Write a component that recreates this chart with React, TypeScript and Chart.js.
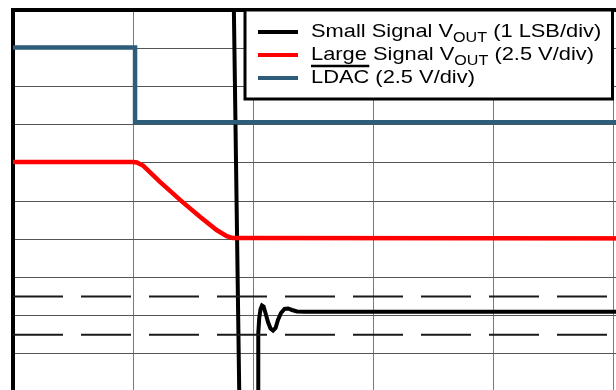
import React, { useEffect, useRef } from "react";
import { Chart, registerables } from "chart.js";

Chart.register(...registerables);

// Time axis in divisions (0..6), amplitude in divisions (0 = bottom, 10 = top)
const ldacX = [0, 1.017, 1.017, 6];
const ldacY = [9.02, 9.02, 7.06, 7.06];

const largeX = [0, 1.0, 1.033, 1.086, 1.225, 1.392, 1.558, 1.697, 1.781, 1.833, 6];
const largeY = [6.02, 6.02, 6.01, 5.92, 5.5, 5.03, 4.59, 4.24, 4.08, 4.03, 4.02];

const smallX = [1.838, 1.888, 2.042, 2.044, 2.052, 2.063, 2.075, 2.088, 2.104, 2.125, 2.146, 2.167, 2.188, 2.208, 2.233, 2.263, 2.292, 2.325, 2.367, 2.433, 6];
const smallY = [10.6, -0.6, -0.6, 1.545, 1.937, 2.173, 2.264, 2.238, 2.068, 1.832, 1.662, 1.61, 1.675, 1.885, 2.068, 2.173, 2.186, 2.147, 2.107, 2.099, 2.1];

const dashedLevels = [2.5, 1.5];

const legendLabels = [
  { pre: "Small Signal V", sub: "OUT", post: " (1 LSB/div)", overbar: false },
  { pre: "Large Signal V", sub: "OUT", post: " (2.5 V/div)", overbar: false },
  { pre: "LDAC", sub: "", post: " (2.5 V/div)", overbar: true },
];
const seriesColors = ["#000000", "#ff0000", "#2d5d78"];

const toPts = (xs: number[], ys: number[]) => xs.map((x, i) => ({ x, y: ys[i] }));

const MAIN_FONT = "19px 'Liberation Sans', Arial, sans-serif";
const SUB_FONT = "14px 'Liberation Sans', Arial, sans-serif";

const legendPlugin = {
  id: "scopeLegend",
  afterDraw(chart: any) {
    const ctx = chart.ctx as CanvasRenderingContext2D;
    ctx.save();
    ctx.fillStyle = "#ffffff";
    ctx.fillRect(245, 10, 367.5, 89);
    ctx.strokeStyle = "#000000";
    ctx.lineWidth = 3;
    ctx.strokeRect(245, 10, 367.5, 89);
    const baselines = [37, 60, 83];
    const textX = 311;
    legendLabels.forEach((lab, i) => {
      const b = baselines[i];
      ctx.strokeStyle = seriesColors[i];
      ctx.lineWidth = 4;
      ctx.beginPath();
      ctx.moveTo(258, b - 5);
      ctx.lineTo(298, b - 5);
      ctx.stroke();

      ctx.save();
      ctx.translate(textX, 0);
      ctx.scale(1.15, 1);
      ctx.fillStyle = "#000000";
      ctx.textBaseline = "alphabetic";
      ctx.font = MAIN_FONT;
      let x = 0;
      ctx.fillText(lab.pre, x, b);
      const preW = ctx.measureText(lab.pre).width;
      if (lab.overbar) {
        ctx.lineWidth = 2.5;
        ctx.strokeStyle = "#000000";
        ctx.beginPath();
        ctx.moveTo(x, b - 17);
        ctx.lineTo(x + preW, b - 17);
        ctx.stroke();
      }
      x += preW;
      if (lab.sub) {
        ctx.font = SUB_FONT;
        ctx.fillText(lab.sub, x, b + 5);
        x += ctx.measureText(lab.sub).width;
        ctx.font = MAIN_FONT;
      }
      ctx.fillText(lab.post, x, b);
      ctx.restore();
    });
    ctx.restore();
  },
};

export default function App() {
  const ref = useRef<HTMLCanvasElement | null>(null);
  useEffect(() => {
    if (!ref.current) return;
    const dashed = dashedLevels.map((lv) => ({
      data: [{ x: 0, y: lv }, { x: 6, y: lv }],
      borderColor: "#1a1a1a",
      borderWidth: 2,
      borderDash: [50, 18],
      pointRadius: 0,
      tension: 0,
    }));
    const chart = new Chart(ref.current, {
      type: "line",
      data: {
        datasets: [
          ...dashed,
          {
            label: "LDAC",
            data: toPts(ldacX, ldacY),
            borderColor: seriesColors[2],
            borderWidth: 4.5,
            pointRadius: 0,
            tension: 0,
          },
          {
            label: "Large Signal",
            data: toPts(largeX, largeY),
            borderColor: seriesColors[1],
            borderWidth: 4.5,
            pointRadius: 0,
            tension: 0,
          },
          {
            label: "Small Signal",
            data: toPts(smallX, smallY),
            borderColor: seriesColors[0],
            borderWidth: 4,
            pointRadius: 0,
            tension: 0,
          },
        ] as any,
      },
      options: {
        animation: false,
        responsive: false,
        events: [],
        layout: { padding: { left: 13, top: 10, right: 7, bottom: 8 } },
        plugins: { legend: { display: false }, tooltip: { enabled: false } },
        scales: {
          x: {
            type: "linear",
            position: "top",
            min: 0,
            max: 6,
            ticks: { display: false, stepSize: 1 },
            grid: { color: "#7a7a7a", lineWidth: 1, drawTicks: false },
            border: { display: true, color: "#000000", width: 4 },
            afterFit: (s: any) => { s.height = 0; },
          },
          y: {
            type: "linear",
            min: 0,
            max: 10,
            ticks: { display: false, stepSize: 1 },
            grid: { color: "#555555", lineWidth: 1, drawTicks: false },
            border: { display: true, color: "#000000", width: 4 },
            afterFit: (s: any) => { s.width = 0; },
          },
        },
      } as any,
      plugins: [legendPlugin],
    });
    return () => chart.destroy();
  }, []);
  return (
    <div style={{ position: "absolute", left: 0, top: 0, width: 740, height: 400, background: "#fff" }}>
      <canvas ref={ref} width={740} height={400} style={{ width: 740, height: 400 }} />
    </div>
  );
}
